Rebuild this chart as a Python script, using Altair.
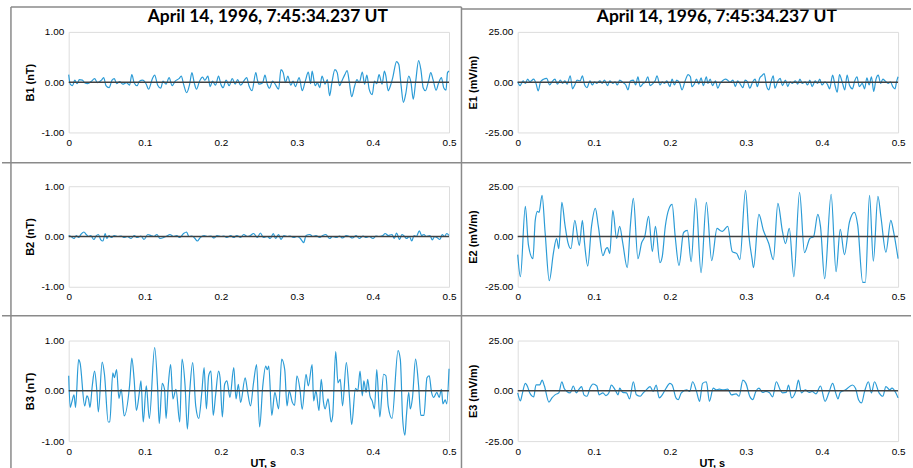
import altair as alt
import pandas as pd

TITLE = "April 14, 1996, 7:45:34.237 UT"
X_TICKS = [0, 0.1, 0.2, 0.3, 0.4, 0.5]
B_TICKS = [-1.0, -0.5, 0.0, 0.5, 1.0]
E_TICKS = [-25.0, -12.5, 0.0, 12.5, 25.0]
B_DOMAIN = [-1.0, 1.0]
E_DOMAIN = [-25.0, 25.0]
X_TITLE = "UT, s"

# ---------------- B1 (nT) ----------------
B1_T = [0.000, 0.002, 0.005, 0.008, 0.011, 0.014, 0.018, 0.021, 0.025, 0.030,
        0.034, 0.038, 0.043, 0.046, 0.049, 0.053, 0.057, 0.060, 0.063, 0.067,
        0.071, 0.076, 0.080, 0.083, 0.086, 0.090, 0.093, 0.097, 0.102, 0.105,
        0.110, 0.113, 0.117, 0.121, 0.124, 0.128, 0.132, 0.136, 0.140, 0.145,
        0.148, 0.151, 0.155, 0.159, 0.162, 0.165, 0.168, 0.172, 0.176, 0.179,
        0.183, 0.186, 0.189, 0.193, 0.197, 0.200, 0.203, 0.207, 0.211, 0.215,
        0.219, 0.222, 0.226, 0.231, 0.234, 0.237, 0.241, 0.246, 0.248, 0.250,
        0.255, 0.258, 0.261, 0.264, 0.268, 0.271, 0.276, 0.279, 0.282, 0.285,
        0.288, 0.292, 0.295, 0.298, 0.303, 0.307, 0.311, 0.315, 0.318, 0.320,
        0.324, 0.327, 0.330, 0.333, 0.337, 0.340, 0.343, 0.346, 0.350, 0.353,
        0.356, 0.359, 0.363, 0.366, 0.369, 0.372, 0.376, 0.379, 0.382, 0.386,
        0.389, 0.392, 0.395, 0.399, 0.402, 0.405, 0.408, 0.412, 0.415, 0.417,
        0.420, 0.423, 0.426, 0.431, 0.434, 0.437, 0.440, 0.443, 0.447, 0.450,
        0.453, 0.456, 0.460, 0.463, 0.466, 0.469, 0.473, 0.476, 0.479, 0.483,
        0.486, 0.490, 0.493, 0.496, 0.498, 0.500]
B1_V = [0.15, -0.04, -0.07, 0.04, -0.03, 0.05, 0.04, -0.01, -0.03, 0.02,
        0.07, -0.01, 0.04, 0.09, -0.07, -0.11, 0.04, 0.07, -0.03, 0.01,
        -0.04, -0.01, -0.06, 0.15, -0.01, -0.07, 0.02, 0.04, -0.04, -0.14,
        0.07, 0.14, -0.06, -0.12, 0.02, -0.04, 0.09, -0.07, 0.02, 0.07,
        0.12, -0.04, -0.21, -0.04, 0.19, -0.01, -0.14, 0.02, 0.10, 0.04,
        0.12, -0.09, 0.02, -0.06, 0.12, -0.04, -0.11, 0.04, -0.07, 0.07,
        -0.04, 0.05, -0.06, 0.04, 0.09, -0.07, -0.17, 0.19, 0.05, -0.04,
        -0.01, 0.14, -0.04, -0.12, 0.02, -0.03, -0.14, 0.25, 0.19, -0.01,
        0.12, -0.06, 0.02, -0.09, 0.09, -0.17, 0.02, 0.20, -0.03, 0.22,
        -0.07, -0.01, -0.11, 0.12, -0.04, 0.05, -0.27, -0.01, 0.25, 0.19,
        -0.07, 0.02, 0.15, 0.23, -0.01, -0.29, -0.07, 0.05, -0.01, 0.20,
        -0.04, 0.14, -0.14, -0.25, 0.02, -0.03, 0.15, -0.04, 0.22, 0.12,
        -0.17, -0.07, 0.09, 0.41, 0.35, -0.07, -0.40, -0.24, 0.12, -0.01,
        -0.34, -0.01, 0.43, 0.25, -0.11, -0.17, 0.02, 0.19, 0.05, -0.16,
        -0.03, 0.09, -0.11, -0.16, 0.19, 0.22]

# ---------------- E1 (mV/m) ----------------
E1_T = [0.000, 0.003, 0.007, 0.010, 0.013, 0.016, 0.021, 0.024, 0.027, 0.030,
        0.034, 0.038, 0.042, 0.045, 0.049, 0.052, 0.056, 0.059, 0.062, 0.065,
        0.069, 0.072, 0.075, 0.078, 0.082, 0.085, 0.088, 0.091, 0.095, 0.098,
        0.101, 0.104, 0.108, 0.111, 0.114, 0.118, 0.121, 0.125, 0.128, 0.131,
        0.134, 0.138, 0.142, 0.145, 0.148, 0.152, 0.155, 0.158, 0.161, 0.165,
        0.168, 0.171, 0.174, 0.178, 0.181, 0.183, 0.187, 0.190, 0.193, 0.196,
        0.200, 0.203, 0.206, 0.209, 0.213, 0.216, 0.220, 0.224, 0.227, 0.229,
        0.232, 0.235, 0.238, 0.241, 0.244, 0.248, 0.250, 0.253, 0.256, 0.260,
        0.263, 0.266, 0.269, 0.273, 0.276, 0.279, 0.283, 0.286, 0.289, 0.292,
        0.296, 0.299, 0.302, 0.305, 0.309, 0.312, 0.315, 0.318, 0.321, 0.324,
        0.327, 0.330, 0.333, 0.336, 0.338, 0.342, 0.345, 0.348, 0.352, 0.355,
        0.358, 0.361, 0.365, 0.368, 0.371, 0.374, 0.378, 0.381, 0.384, 0.387,
        0.391, 0.394, 0.397, 0.400, 0.404, 0.407, 0.410, 0.414, 0.417, 0.420,
        0.423, 0.427, 0.430, 0.433, 0.436, 0.440, 0.443, 0.446, 0.449, 0.453,
        0.456, 0.459, 0.462, 0.465, 0.468, 0.471, 0.474, 0.477, 0.480, 0.483,
        0.487, 0.490, 0.493, 0.496, 0.498, 0.500]
E1_V = [0.2, -1.7, 0.6, -0.6, 1.5, 0.2, 1.5, -0.6, -4.3, 0.2,
        1.5, 1.9, -1.4, 0.2, 1.5, -1.0, 1.0, -0.6, 0.6, -1.0,
        3.2, -3.3, -1.4, 1.0, 0.6, 3.2, -1.4, -2.7, 0.6, -1.4,
        0.2, -0.6, 0.6, -0.6, 1.0, -1.7, 0.6, -0.6, 0.2, -1.4,
        1.0, -0.1, -1.4, -3.8, 0.6, 1.0, -1.4, 2.7, -2.2, -0.6,
        0.2, 2.7, -1.7, -0.6, 1.0, 3.2, -1.4, 0.2, -0.6, 0.6,
        -2.2, 1.5, -1.4, 1.0, -0.6, -3.8, 0.6, 3.8, 2.7, -2.2,
        -1.0, 1.5, -1.0, 2.2, -1.7, 2.7, -0.6, 1.5, -1.7, 0.6,
        -3.0, -0.6, 0.6, 1.5, 1.0, -0.1, 1.0, -2.2, 0.6, -0.6,
        -2.7, 1.0, 0.2, -3.0, 0.2, 1.5, -2.2, 1.9, 3.2, 4.3,
        -1.7, -3.8, 0.2, 3.2, -3.0, 0.6, 1.9, -1.7, 1.0, -2.2,
        0.2, -0.6, 0.6, -1.0, 1.5, -0.6, 0.2, -1.4, 1.0, -2.2,
        0.6, -0.6, 1.5, -1.4, 0.2, -1.0, -3.3, 3.5, -1.4, -5.0,
        3.8, -0.6, -3.8, 3.5, -1.4, -3.3, 0.6, 2.7, -2.2, -0.6,
        -3.3, 2.2, -1.4, 2.7, -4.6, 1.5, 3.5, -0.6, 1.5, 0.6,
        -0.6, 0.2, -2.2, -3.3, 0.2, 2.7]

# ---------------- B2 (nT) ----------------
B2_T = [0.000, 0.003, 0.007, 0.010, 0.013, 0.016, 0.020, 0.023, 0.026, 0.029,
        0.033, 0.036, 0.039, 0.042, 0.045, 0.048, 0.050, 0.053, 0.056, 0.060,
        0.064, 0.069, 0.073, 0.077, 0.082, 0.086, 0.090, 0.095, 0.099, 0.104,
        0.108, 0.112, 0.116, 0.120, 0.125, 0.129, 0.133, 0.138, 0.142, 0.146,
        0.151, 0.155, 0.158, 0.162, 0.166, 0.169, 0.173, 0.178, 0.182, 0.187,
        0.191, 0.195, 0.200, 0.204, 0.208, 0.213, 0.217, 0.221, 0.226, 0.230,
        0.235, 0.239, 0.243, 0.248, 0.252, 0.256, 0.261, 0.265, 0.269, 0.272,
        0.276, 0.279, 0.283, 0.287, 0.291, 0.296, 0.300, 0.304, 0.309, 0.312,
        0.317, 0.321, 0.325, 0.330, 0.334, 0.338, 0.343, 0.347, 0.352, 0.356,
        0.360, 0.365, 0.369, 0.373, 0.378, 0.382, 0.387, 0.391, 0.395, 0.400,
        0.404, 0.408, 0.413, 0.416, 0.420, 0.425, 0.428, 0.431, 0.435, 0.438,
        0.441, 0.444, 0.448, 0.451, 0.454, 0.457, 0.461, 0.464, 0.467, 0.470,
        0.475, 0.478, 0.481, 0.484, 0.488, 0.491, 0.494, 0.497, 0.500]
B2_V = [0.02, 0.00, -0.04, 0.02, -0.02, 0.04, 0.09, 0.04, 0.00, 0.02,
        -0.06, 0.01, 0.04, -0.06, -0.09, 0.06, -0.04, 0.02, -0.02, 0.02,
        0.00, 0.01, -0.02, 0.00, -0.04, 0.02, -0.02, 0.01, -0.06, 0.04,
        0.02, 0.00, 0.04, -0.04, -0.02, 0.01, 0.04, 0.00, 0.02, -0.02,
        0.06, 0.09, 0.00, 0.01, -0.04, -0.09, -0.02, 0.02, 0.00, 0.01,
        -0.03, 0.02, 0.00, 0.01, -0.02, 0.02, -0.02, 0.02, -0.02, 0.04,
        0.00, 0.02, 0.06, -0.02, 0.07, -0.02, 0.00, -0.04, 0.06, -0.04,
        0.04, -0.06, 0.02, 0.00, 0.01, -0.02, 0.00, -0.03, -0.12, 0.02,
        0.04, 0.00, 0.02, -0.02, 0.02, 0.04, -0.04, 0.00, -0.02, 0.01,
        -0.03, 0.02, 0.00, -0.03, 0.02, -0.04, 0.01, -0.02, 0.00, -0.04,
        0.01, 0.00, 0.02, 0.06, 0.02, 0.04, -0.04, 0.07, -0.06, 0.04,
        0.01, -0.04, 0.00, -0.09, 0.02, 0.00, 0.11, 0.02, 0.04, 0.00,
        0.02, -0.07, 0.00, -0.02, -0.06, 0.04, 0.00, 0.06, 0.02]

# ---------------- E2 (mV/m) ----------------
E2_T = [0.000, 0.0035, 0.010, 0.014, 0.020, 0.023, 0.026, 0.028, 0.032, 0.036,
        0.0415, 0.047, 0.051, 0.054, 0.058, 0.062, 0.066, 0.070, 0.075, 0.081,
        0.085, 0.088, 0.092, 0.097, 0.102, 0.106, 0.112, 0.116, 0.118, 0.121,
        0.125, 0.130, 0.134, 0.138, 0.144, 0.148, 0.152, 0.158, 0.163, 0.167,
        0.172, 0.177, 0.181, 0.187, 0.190, 0.194, 0.199, 0.203, 0.207, 0.212,
        0.218, 0.223, 0.228, 0.234, 0.241, 0.248, 0.255, 0.262, 0.266, 0.269,
        0.276, 0.282, 0.288, 0.292, 0.2995, 0.304, 0.308, 0.310, 0.317, 0.323,
        0.330, 0.336, 0.342, 0.348, 0.352, 0.357, 0.363, 0.3705, 0.377, 0.384,
        0.389, 0.3945, 0.398, 0.4035, 0.412, 0.4185, 0.424, 0.4295, 0.436, 0.4425,
        0.447, 0.4535, 0.457, 0.4625, 0.4675, 0.4735, 0.4775, 0.484, 0.4905, 0.494,
        0.500]
E2_V = [-9.0, -20.0, 15.0, -4.0, -11.0, 8.0, 12.5, 12.0, 20.5, 2.0,
        -22.0, -8.0, -1.0, -6.0, 17.0, 6.0, -3.0, -6.0, 8.0, -4.5,
        8.0, -4.0, -14.7, 5.0, 14.0, 5.0, -9.5, -6.0, -5.5, -8.5,
        13.0, -1.0, 5.0, -3.0, -15.5, 5.0, 19.0, -11.0, -3.0, 0.0,
        10.0, -7.5, 5.0, -13.0, -10.0, 5.0, 14.0, 16.0, 0.0, -14.5,
        2.0, 3.0, -12.5, 19.0, -18.0, 17.0, -12.0, 4.0, 3.0, 2.5,
        5.0, -7.5, -8.5, -11.5, 23.0, 0.0, -11.0, -15.5, 11.0, 3.0,
        -3.5, -11.5, 16.5, 2.5, -3.5, 4.0, -20.0, 22.0, -8.0, -1.0,
        0.0, 11.0, 5.0, -21.0, 21.0, -17.5, 3.5, -9.0, 7.0, 12.0,
        5.5, -22.8, -22.8, 20.5, -12.3, 20.0, 9.7, -7.8, 8.0, 2.6,
        -11.0]

# ---------------- B3 (nT) ----------------
B3_T = [0.000, 0.002, 0.004, 0.007, 0.009, 0.013, 0.015, 0.021, 0.024, 0.026,
        0.028, 0.031, 0.034, 0.037, 0.039, 0.044, 0.047, 0.052, 0.054, 0.058,
        0.060, 0.063, 0.066, 0.069, 0.073, 0.080, 0.083, 0.086, 0.089, 0.093,
        0.095, 0.098, 0.102, 0.106, 0.113, 0.117, 0.119, 0.123, 0.126, 0.128,
        0.131, 0.134, 0.137, 0.141, 0.146, 0.149, 0.153, 0.156, 0.159, 0.163,
        0.167, 0.171, 0.175, 0.178, 0.181, 0.184, 0.187, 0.190, 0.193, 0.197,
        0.199, 0.202, 0.205, 0.208, 0.212, 0.217, 0.220, 0.223, 0.226, 0.232,
        0.235, 0.239, 0.243, 0.247, 0.251, 0.255, 0.259, 0.261, 0.263, 0.267,
        0.271, 0.276, 0.280, 0.284, 0.287, 0.290, 0.294, 0.297, 0.300, 0.304,
        0.307, 0.312, 0.315, 0.320, 0.322, 0.325, 0.329, 0.332, 0.335, 0.337,
        0.341, 0.345, 0.347, 0.351, 0.354, 0.357, 0.360, 0.365, 0.369, 0.372,
        0.377, 0.380, 0.383, 0.386, 0.388, 0.391, 0.393, 0.396, 0.399, 0.402,
        0.405, 0.409, 0.414, 0.417, 0.420, 0.425, 0.433, 0.436, 0.439, 0.442,
        0.444, 0.447, 0.449, 0.452, 0.456, 0.460, 0.463, 0.467, 0.471, 0.474,
        0.477, 0.480, 0.484, 0.487, 0.490, 0.492, 0.495, 0.497, 0.500]
B3_V = [0.30, -0.33, -0.23, -0.08, -0.33, 0.62, 0.55, -0.30, -0.10, -0.16,
        -0.33, 0.10, 0.39, 0.00, -0.42, 0.57, 0.33, -0.62, -0.62, 0.36,
        0.26, 0.42, -0.15, 0.03, -0.50, 0.10, 0.65, 0.23, -0.39, -0.02,
        0.20, -0.62, 0.10, -0.55, 0.86, 0.03, -0.65, 0.15, 0.03, -0.55,
        0.13, 0.52, -0.16, 0.03, -0.62, 0.63, 0.10, -0.76, -0.03, 0.56,
        -0.30, -0.55, -0.03, 0.46, -0.36, 0.30, 0.39, -0.49, -0.10, 0.39,
        0.26, -0.52, 0.13, 0.20, -0.13, 0.46, -0.16, 0.13, -0.23, 0.26,
        0.00, -0.30, 0.16, 0.52, -0.72, 0.07, 0.49, 0.42, 0.49, -0.49,
        -0.03, -0.36, 0.63, 0.42, -0.30, 0.00, -0.23, -0.29, 0.30, 0.03,
        -0.37, 0.33, 0.10, 0.52, -0.20, 0.00, -0.39, 0.23, -0.23, -0.36,
        -0.16, -0.62, -0.50, 0.78, 0.16, 0.23, -0.30, 0.56, -0.10, -0.67,
        0.05, 0.00, 0.39, -0.10, 0.20, -0.03, 0.23, -0.10, -0.20, -0.36,
        0.42, -0.52, 0.33, 0.30, -0.30, -0.55, 0.80, 0.62, -0.55, -0.88,
        -0.49, -0.03, -0.36, -0.13, 0.63, 0.10, -0.49, -0.49, 0.26, 0.30,
        -0.03, -0.13, -0.03, -0.13, 0.03, -0.26, -0.18, -0.26, 0.44]

# ---------------- E3 (mV/m) ----------------
E3_T = [0.000, 0.0035, 0.0057, 0.010, 0.013, 0.0157, 0.021, 0.024, 0.029, 0.032,
        0.035, 0.041, 0.045, 0.049, 0.054, 0.058, 0.061, 0.0646, 0.069, 0.073,
        0.077, 0.080, 0.084, 0.087, 0.091, 0.095, 0.099, 0.104, 0.107, 0.112,
        0.116, 0.120, 0.123, 0.128, 0.132, 0.134, 0.138, 0.143, 0.147, 0.152,
        0.156, 0.161, 0.165, 0.169, 0.174, 0.178, 0.182, 0.186, 0.190, 0.195,
        0.200, 0.203, 0.208, 0.211, 0.215, 0.222, 0.226, 0.230, 0.235, 0.239,
        0.243, 0.248, 0.252, 0.257, 0.261, 0.265, 0.270, 0.276, 0.281, 0.287,
        0.291, 0.296, 0.300, 0.305, 0.309, 0.313, 0.317, 0.322, 0.326, 0.331,
        0.335, 0.340, 0.345, 0.348, 0.353, 0.356, 0.360, 0.366, 0.369, 0.373,
        0.378, 0.383, 0.387, 0.392, 0.398, 0.404, 0.409, 0.414, 0.418, 0.421,
        0.424, 0.431, 0.440, 0.444, 0.448, 0.452, 0.456, 0.461, 0.465, 0.469,
        0.475, 0.480, 0.484, 0.489, 0.492, 0.497, 0.500]
E3_V = [-1.0, -5.0, -2.0, 3.7, 2.0, -1.0, -3.0, 3.0, 3.0, 5.3,
        2.5, -5.6, -3.5, -2.0, -1.0, 4.5, 1.3, -0.3, -1.0, 2.4,
        -1.0, 0.5, 2.1, -2.0, -2.7, 1.3, 3.4, 2.4, -2.0, -1.0,
        -2.4, -0.8, 2.9, 0.5, -2.0, 1.3, -0.8, -1.0, -4.0, 4.5,
        -2.0, -2.7, -1.0, 0.5, 2.1, -0.3, 2.9, -3.5, -2.0, 1.3,
        3.7, 3.0, -3.5, -4.4, -1.0, 0.5, -0.3, 4.5, -0.3, -5.2,
        3.7, 4.5, -5.2, 1.3, 0.5, 0.8, 0.5, 0.8, -2.0, -1.5,
        -2.7, 5.3, 3.7, -2.7, -4.4, -0.3, 1.3, -0.8, -0.3, -1.0,
        -3.0, 4.5, 0.5, -1.0, -0.8, 2.9, -3.5, 0.5, 5.3, -1.0,
        0.5, -0.8, -0.3, -1.5, 2.4, -5.2, -1.0, 3.7, -1.0, -4.0,
        -0.8, 0.5, 2.9, 1.3, -4.4, -6.0, -0.3, 4.5, -1.0, 4.5,
        -1.0, -2.7, 2.1, 0.5, 1.3, -1.0, -3.5]

# ---------------- styling ----------------
LINE_COLOR = "#2b9bd6"
ZERO_COLOR = "#404040"
FRAME_COLOR = "#8a8a8a"
FONT = "Lato"
W, H = 382, 101


def neg_fmt(fmt):
    return "(datum.value < 0 ? '-' : '') + format(abs(datum.value), '" + fmt + "')"


def panel(t, v, ylab, ydom, yticks, title_x, top=False, bottom=False, frame=False):
    df = pd.DataFrame({"t": t, "v": v})
    xkw = dict(values=X_TICKS, labelExpr=neg_fmt("~g"), ticks=False, domain=False,
               grid=False, labelFlush=False, labelPadding=5)
    if bottom:
        xkw.update(title=X_TITLE, titlePadding=2, titleX=W / 2 + 4)
    else:
        xkw.update(title=None)
    yaxis = alt.Axis(values=yticks, labelExpr=neg_fmt(".2f"), ticks=False, domain=False,
                     grid=False, labelFlush=False, labelPadding=5, title=ylab,
                     titleX=title_x, titleY=H / 2, titleAngle=270,
                     titleBaseline="middle", titleAlign="center")
    line = alt.Chart(df).mark_line(color=LINE_COLOR, strokeWidth=1.2,
                                   interpolate="monotone").encode(
        x=alt.X("t:Q", scale=alt.Scale(domain=[0, 0.5], nice=False, zero=False),
                axis=alt.Axis(**xkw)),
        y=alt.Y("v:Q", scale=alt.Scale(domain=ydom, nice=False, zero=False), axis=yaxis),
    )
    one = pd.DataFrame({"k": [0]})
    zero = alt.Chart(one).mark_rule(color=ZERO_COLOR, strokeWidth=1.5).encode(
        y=alt.datum(0))
    layers = [line, zero]
    if frame:
        # page frame lines, in pixels relative to this (middle-left) plot area
        segs = [(-58, -58, -180, 285), (-58, 394.5, -180, -180), (394.5, 846, -178, -178),
                (394.5, 394.5, -180, 285), (-67, 846, -23.5, -23.5), (-67, 846, 130, 130)]
        for x1, x2, y1, y2 in segs:
            layers.append(alt.Chart(one).mark_rule(color=FRAME_COLOR, strokeWidth=1.5).encode(
                x=alt.value(x1), x2=alt.value(x2), y=alt.value(y1), y2=alt.value(y2)))
    props = dict(width=W, height=H)
    if top:
        props["title"] = alt.TitleParams(TITLE, fontSize=17.5, font=FONT, fontWeight="bold",
                                         color="#000000", anchor="middle", offset=1, dx=9,
                                         frame="group")
    return alt.layer(*layers).properties(**props)


tl = panel(B1_T, B1_V, "B1 (nT)", B_DOMAIN, B_TICKS, -38, top=True)
tr = panel(E1_T, E1_V, "E1 (mV/m)", E_DOMAIN, E_TICKS, -44, top=True)
ml = panel(B2_T, B2_V, "B2 (nT)", B_DOMAIN, B_TICKS, -38, frame=True)
mr = panel(E2_T, E2_V, "E2 (mV/m)", E_DOMAIN, E_TICKS, -44)
bl = panel(B3_T, B3_V, "B3 (nT)", B_DOMAIN, B_TICKS, -38, bottom=True)
br = panel(E3_T, E3_V, "E3 (mV/m)", E_DOMAIN, E_TICKS, -44, bottom=True)

chart = alt.concat(tl, tr, ml, mr, bl, br, columns=2,
                   spacing={"row": 54, "column": 69}, bounds="flush").properties(
    padding={"left": 0, "top": 4, "right": 0, "bottom": 0}
).configure_view(stroke="#bfbfbf", strokeWidth=1.5).configure_axis(
    labelFont=FONT, labelFontSize=10.5, labelColor="#404040",
    titleFont=FONT, titleFontSize=12, titleFontWeight="bold", titleColor="#1a1a1a"
).configure(background="white")

chart.save("out.html", embed_options={"renderer": "svg", "actions": False})
